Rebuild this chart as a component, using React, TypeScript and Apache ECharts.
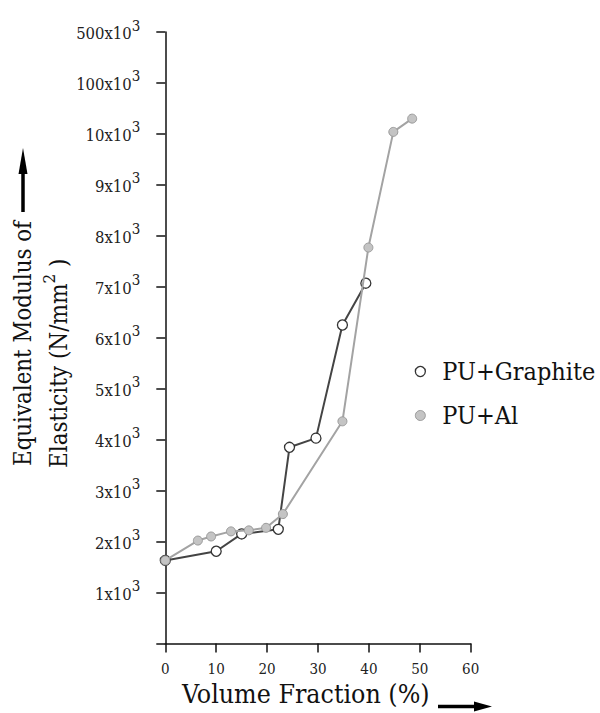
import React, { useEffect, useRef } from "react";
import * as echarts from "echarts";

const seriesNames = ["PU+Graphite", "PU+Al"];
const graphiteX = [0, 10, 15, 22.2, 24.4, 29.6, 34.8, 39.4];
const graphiteY = [1.63, 1.81, 2.15, 2.24, 3.85, 4.03, 6.25, 7.07];
const alX = [0, 6.4, 9.0, 12.9, 16.4, 19.8, 23.1, 34.8, 39.9, 44.8, 48.5];
const alY = [1.63, 2.02, 2.1, 2.2, 2.22, 2.27, 2.54, 4.36, 7.77, 10.04, 10.3];
const xTickValues = [0, 10, 20, 30, 40, 50, 60];
const yTickBase = ["", "1x10", "2x10", "3x10", "4x10", "5x10", "6x10", "7x10", "8x10", "9x10", "10x10", "100x10", "500x10"];
const yTickExp = "3";
const xTitle = "Volume Fraction (%)";
const yTitle1 = "Equivalent Modulus of";
const yTitle2 = "Elasticity (N/mm";
const yTitleSup = "2";

const SERIF = "DejaVu Serif Condensed";

export default function App() {
  const ref = useRef<HTMLDivElement>(null);
  useEffect(() => {
    if (!ref.current) return;
    const chart = echarts.init(ref.current, null, { renderer: "svg" });
    const gData = graphiteX.map((x, i) => [x, graphiteY[i]]);
    const aData = alX.map((x, i) => [x, alY[i]]);
    const option: any = {
      animation: false,
      backgroundColor: "#ffffff",
      textStyle: { fontFamily: SERIF },
      grid: { left: 165.3, top: 32, width: 305.4, height: 611.5, containLabel: false, outerBoundsMode: "none" },
      legend: {
        orient: "vertical",
        left: 409.7,
        top: 354,
        itemWidth: 34,
        itemHeight: 10,
        itemGap: 19,
        textStyle: { fontFamily: SERIF, fontSize: 25, color: "#111" },
        data: [
          { name: seriesNames[0], icon: "circle", itemStyle: { color: "#fff", borderColor: "#333", borderWidth: 1.3 } },
          { name: seriesNames[1], icon: "circle", itemStyle: { color: "#c4c4c4", borderColor: "#9a9a9a", borderWidth: 1 } },
        ],
      },
      xAxis: {
        type: "value",
        min: xTickValues[0],
        max: xTickValues[xTickValues.length - 1],
        interval: 10,
        splitLine: { show: false },
        axisLine: { onZero: false, lineStyle: { color: "#111", width: 1.5 } },
        axisTick: { inside: false, length: 9, lineStyle: { color: "#111", width: 1.5 } },
        axisLabel: { margin: 18, fontFamily: SERIF, fontSize: 15, color: "#222" },
      },
      yAxis: {
        type: "value",
        min: 0,
        max: yTickBase.length - 1,
        interval: 1,
        splitLine: { show: false },
        axisLine: { onZero: false, lineStyle: { color: "#111", width: 1.5 } },
        axisTick: { inside: false, length: 9, lineStyle: { color: "#111", width: 1.5 } },
        axisLabel: {
          margin: 25,
          color: "#222",
          formatter: (v: number) => {
            const b = yTickBase[Math.round(v)];
            return b ? `{b|${b}}{s|${yTickExp}}` : "";
          },
          rich: {
            b: { fontFamily: SERIF, fontSize: 16.5, lineHeight: 20, verticalAlign: "bottom", color: "#222" },
            s: { fontFamily: SERIF, fontSize: 15, lineHeight: 20, verticalAlign: "bottom", padding: [0, 0, 9, 0], color: "#222" },
          },
        },
      },
      series: [
        {
          name: seriesNames[0],
          type: "line",
          data: gData,
          symbol: "circle",
          symbolSize: 10,
          itemStyle: { color: "#fff", borderColor: "#333", borderWidth: 1.3 },
          lineStyle: { color: "#444", width: 2 },
          z: 2,
        },
        {
          name: seriesNames[1],
          type: "line",
          data: aData,
          symbol: "circle",
          symbolSize: 9,
          itemStyle: { color: "#c4c4c4", borderColor: "#9a9a9a", borderWidth: 1 },
          lineStyle: { color: "#a3a3a3", width: 2 },
          z: 3,
        },
      ],
      graphic: [
        {
          type: "text",
          x: 182,
          y: 693.5,
          style: { text: xTitle, fontFamily: SERIF, fontSize: 26.5, fill: "#111", textAlign: "left", textVerticalAlign: "middle" },
        },
        { type: "line", shape: { x1: 438, y1: 706.5, x2: 478, y2: 706.5 }, style: { stroke: "#000", lineWidth: 3.5 } },
        { type: "polygon", shape: { points: [[492, 706.5], [474, 701.5], [474, 711.5]] }, style: { fill: "#000" } },
        {
          type: "text",
          x: 22.5,
          y: 466,
          rotation: Math.PI / 2,
          style: { text: yTitle1, fontFamily: SERIF, fontSize: 23.8, fill: "#111", textAlign: "left", textVerticalAlign: "middle" },
        },
        { type: "line", shape: { x1: 23, y1: 212, x2: 23, y2: 168 }, style: { stroke: "#000", lineWidth: 3.5 } },
        { type: "polygon", shape: { points: [[23, 148], [18.5, 174], [27.5, 174]] }, style: { fill: "#000" } },
        {
          type: "text",
          x: 57,
          y: 468,
          rotation: Math.PI / 2,
          style: {
            text: `{a|${yTitle2}}{s|${yTitleSup}}{a| )}`,
            textAlign: "left",
            textVerticalAlign: "middle",
            rich: {
              a: { fontFamily: SERIF, fontSize: 24, lineHeight: 27, verticalAlign: "bottom", fill: "#111", color: "#111" },
              s: { fontFamily: SERIF, fontSize: 17, lineHeight: 19, verticalAlign: "bottom", padding: [0, 0, 13, 0], fill: "#111", color: "#111" },
            },
          },
        },
      ],
    };
    chart.setOption(option);
    return () => chart.dispose();
  }, []);
  return <div ref={ref} style={{ position: "fixed", left: 0, top: 0, width: 600, height: 713 }} />;
}
